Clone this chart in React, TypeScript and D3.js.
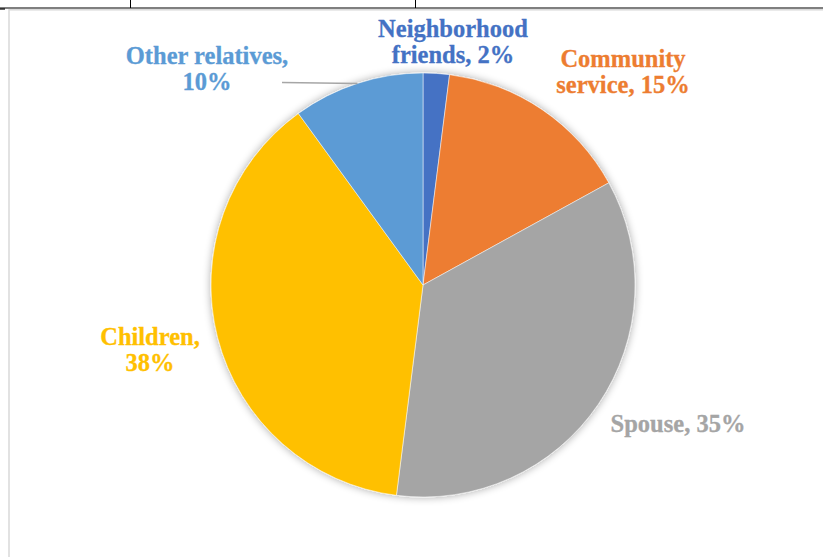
import React from "react";
import * as d3 from "d3";

const categories = ["Neighborhood friends", "Community service", "Spouse", "Children", "Other relatives"];
const values = [2, 15, 35, 38, 10];
const colors = ["#4472C4", "#ED7D31", "#A5A5A5", "#FFC000", "#5B9BD5"];
const labelLines = [
  ["Neighborhood", "friends, 2%"],
  ["Community", "service, 15%"],
  ["Spouse, 35%"],
  ["Children,", "38%"],
  ["Other relatives,", "10%"],
];
const labelPos = [
  [453, 37],
  [623, 67],
  [678, 432],
  [150, 345],
  [207, 64],
];

export default function App() {
  const W = 823, H = 557;
  const cx = 423, cy = 285, r = 212;
  const pie = d3.pie<number>().sort(null).value((d) => d)(values);
  const arc = d3.arc<d3.PieArcDatum<number>>().innerRadius(0).outerRadius(r);
  const other = pie[4];
  const mid = (other.startAngle + other.endAngle) / 2;
  const ex = cx + r * Math.sin(mid);
  const ey = cy - r * Math.cos(mid);
  const lh = 26;
  return (
    <svg width={W} height={H} style={{ position: "absolute", left: 0, top: 0, background: "#fff" }}>
      <defs>
        <filter id="sh" x="-20%" y="-20%" width="140%" height="140%">
          <feGaussianBlur in="SourceAlpha" stdDeviation="4" />
          <feOffset dx="0" dy="0" result="b" />
          <feComponentTransfer>
            <feFuncA type="linear" slope="0.35" />
          </feComponentTransfer>
          <feMerge>
            <feMergeNode />
            <feMergeNode in="SourceGraphic" />
          </feMerge>
        </filter>
      </defs>
      <line x1={0} x2={W} y1={8} y2={8} stroke="#000" strokeWidth={1.2} />
      <line x1={130.5} x2={130.5} y1={0} y2={8} stroke="#000" strokeWidth={1} />
      <line x1={415.5} x2={415.5} y1={0} y2={8} stroke="#000" strokeWidth={1} />
      <line x1={0} x2={5} y1={9} y2={9} stroke="#000" strokeWidth={1.2} />
      <rect x={9} y={9.8} width={W + 10} height={H + 10} fill="#fff" stroke="#d9d9d9" strokeWidth={1.5} />
      <g transform={`translate(${cx},${cy})`} filter="url(#sh)">
        {pie.map((d, i) => (
          <path key={categories[i]} d={arc(d) || ""} fill={colors[i]} stroke="#fff" strokeWidth={0.5} />
        ))}
      </g>
      <line x1={282} y1={82.5} x2={ex} y2={ey} stroke="#a6a6a6" strokeWidth={1.5} />
      {labelLines.map((lines, i) => (
        <text
          key={categories[i]}
          x={labelPos[i][0]}
          y={labelPos[i][1]}
          textAnchor="middle"
          fill={colors[i]}
          fontFamily="'Liberation Serif', 'Times New Roman', serif"
          fontWeight="bold"
          fontSize={24.5}
          stroke={colors[i]}
          strokeWidth={0.3}
        >
          {lines.map((l, j) => (
            <tspan key={j} x={labelPos[i][0]} dy={j === 0 ? 0 : lh}>
              {l}
            </tspan>
          ))}
        </text>
      ))}
    </svg>
  );
}
